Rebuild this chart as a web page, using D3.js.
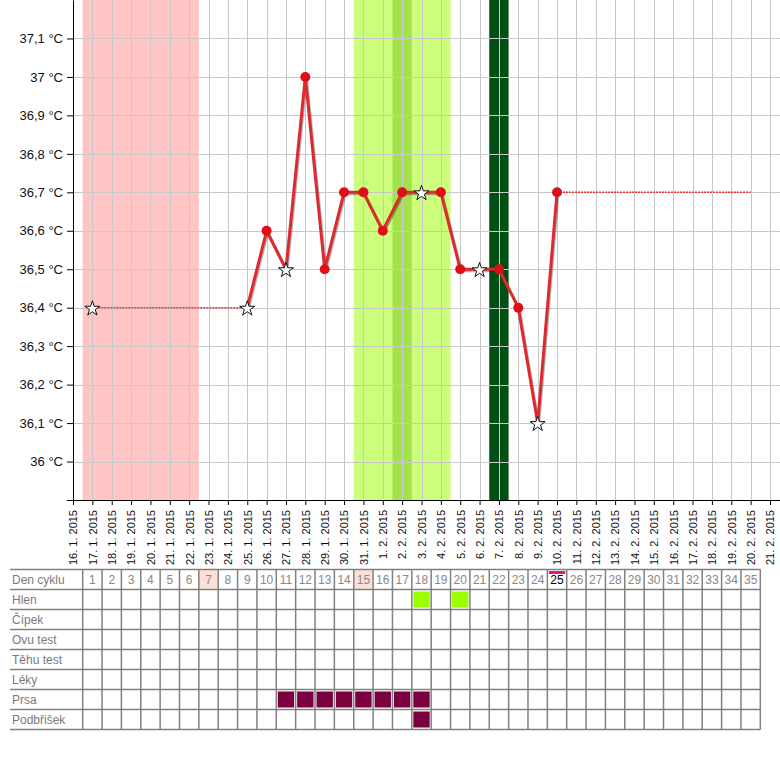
<!DOCTYPE html>
<html>
<head>
<meta charset="utf-8">
<script src="https://cdn.jsdelivr.net/npm/d3@7"></script>
<style>
  body { margin: 0; background: #fff; }
  svg { display: block; font-family: "Liberation Sans", Arial, sans-serif; }
</style>
</head>
<body>
<div id="chart"></div>
<script>
// cycle day 1 = 17. 1. 2015, day 0 = 16. 1. 2015
var startDate = new Date(Date.UTC(2015, 0, 16)),
    endDate = new Date(Date.UTC(2015, 1, 21));

// measured temperatures (cycle day, value, disturbed = star)
var tempDays  = [1, 9, 10, 11, 12, 13, 14, 15, 16, 17, 18, 19, 20, 21, 22, 23, 24, 25];
var tempVals  = [36.4, 36.4, 36.6, 36.5, 37.0, 36.5, 36.7, 36.7, 36.6, 36.7, 36.7, 36.7, 36.5, 36.5, 36.5, 36.4, 36.1, 36.7];
var tempStars = [1, 9, 11, 18, 21, 24];

// thin connecting lines (missing days / projection)
var thinLines = [
    [[1, 36.4], [9, 36.4]],
    [[25, 36.7], [35, 36.7]]
];

// coloured bands [from day, to day]
var menstruation = [1, 6];
var fertile = [15, 19];
var peak = [17, 17];
var ovulation = [22, 22];

var yTicks = [35.9, 36.0, 36.1, 36.2, 36.3, 36.4, 36.5, 36.6, 36.7, 36.8, 36.9, 37.0, 37.1];

// table
var rowLabels = ["Den cyklu", "Hlen", "Čípek", "Ovu test", "Těhu test", "Léky", "Prsa", "Podbřišek"];
var cycleDays = d3.range(1, 36);
var headerPink = [7, 15];
var today = 25;
var hlenDays = [18, 20];
var prsaDays = [11, 12, 13, 14, 15, 16, 17, 18];
var podbrisekDays = [18];

var w = 780, h = 760;

var svg = d3.select("#chart").append("svg")
    .attr("width", w)
    .attr("height", h);

var x = d3.scaleUtc().domain([startDate, endDate]).range([73, 770]);
var y = d3.scaleLinear().domain([35.9, 37.2]).range([500, 0]);

function dayDate(d) { return d3.utcDay.offset(startDate, d); }
function dx(d) { return x(dayDate(d)); }
var step = dx(1) - dx(0);

//bands
function band(r, color) {
    svg.append("rect")
        .attr("x", dx(r[0]) - step / 2)
        .attr("y", y(37.2))
        .attr("width", dx(r[1]) - dx(r[0]) + step)
        .attr("height", y(35.9) - y(37.2))
        .style("fill", color);
}
band(menstruation, "#ffc5c5");
band(fertile, "#cdfd7d");
band(peak, "#a3e24b");
band(ovulation, "#024f16");

//grid
var grid = svg.append("g").style("stroke", "#c8c8c8").style("stroke-width", 1);
grid.selectAll("line.v")
    .data(d3.range(1, 37))
    .enter().append("line")
    .attr("x1", function(d) { return Math.round(dx(d)) + 0.5; })
    .attr("x2", function(d) { return Math.round(dx(d)) + 0.5; })
    .attr("y1", 0).attr("y2", 500);
grid.selectAll("line.h")
    .data(yTicks.slice(1))
    .enter().append("line")
    .attr("x1", 73).attr("x2", 780)
    .attr("y1", function(d) { return Math.round(y(d)) + 0.5; })
    .attr("y2", function(d) { return Math.round(y(d)) + 0.5; });

//axes
var yAxis = d3.axisLeft(y)
    .tickValues(yTicks)
    .tickSize(6)
    .tickSizeOuter(0)
    .tickPadding(4)
    .tickFormat(function(d) {
        if (d < 35.95) return "";
        return d3.format(".1~f")(d).replace(".", ",") + " °C";
    });
var gy = svg.append("g")
    .attr("transform", "translate(73,0)")
    .call(yAxis);
gy.selectAll("text").style("font-size", "13px").style("fill", "#111");

var xAxis = d3.axisBottom(x)
    .ticks(d3.utcDay.every(1))
    .tickSize(5)
    .tickSizeOuter(0)
    .tickFormat(d3.utcFormat("%-d. %-m. %Y"));
var gx = svg.append("g")
    .attr("transform", "translate(0,500)")
    .call(xAxis);
gx.select(".domain").remove();
gx.selectAll("text")
    .attr("transform", "rotate(-90)")
    .attr("x", -10)
    .attr("y", 0)
    .attr("dy", "0.35em")
    .style("text-anchor", "end")
    .style("font-size", "11px")
    .style("fill", "#111");
svg.append("line")
    .attr("x1", 67).attr("x2", 780)
    .attr("y1", 500.5).attr("y2", 500.5)
    .style("stroke", "#000");

//thin lines
var line = d3.line()
    .x(function(d) { return dx(d[0]); })
    .y(function(d) { return y(d[1]); });

svg.selectAll("path.thin")
    .data(thinLines)
    .enter().append("path")
    .attr("d", line)
    .style("fill", "none")
    .style("stroke", "#f03030")
    .style("stroke-width", 1.5)
    .style("stroke-dasharray", "2,1");

// main temperature line from day 9 on
var points = tempDays.map(function(d, i) { return [d, tempVals[i]]; });
var mainPts = points.filter(function(p) { return p[0] >= 9; });

svg.append("path")
    .datum(mainPts)
    .attr("d", line)
    .attr("transform", "translate(1,1.5)")
    .style("fill", "none")
    .style("stroke", "rgba(0,0,0,0.3)")
    .style("stroke-width", 3);
svg.append("path")
    .datum(mainPts)
    .attr("d", line)
    .style("fill", "none")
    .style("stroke", "#dd2a2e")
    .style("stroke-width", 3)
    .style("stroke-linejoin", "round");

svg.selectAll("circle.pt")
    .data(points.filter(function(p) { return tempStars.indexOf(p[0]) < 0; }))
    .enter().append("circle")
    .attr("cx", function(d) { return dx(d[0]); })
    .attr("cy", function(d) { return y(d[1]); })
    .attr("r", 5)
    .style("fill", "#df0f18");

var star = d3.symbol().type(d3.symbolStar).size(70);
svg.selectAll("path.star")
    .data(points.filter(function(p) { return tempStars.indexOf(p[0]) >= 0; }))
    .enter().append("path")
    .attr("d", star)
    .attr("transform", function(d) { return "translate(" + dx(d[0]) + "," + (y(d[1]) + 1) + ")"; })
    .style("fill", "#fff")
    .style("stroke", "#111")
    .style("stroke-width", 1);

//table
var top0 = 569.5, rowH = 20, left0 = 10;
var table = svg.append("g");

function cellX(d) { return dx(d) - step / 2; }

// header highlights
table.selectAll("rect.hp")
    .data(headerPink)
    .enter().append("rect")
    .attr("x", cellX)
    .attr("y", top0)
    .attr("width", step)
    .attr("height", rowH)
    .style("fill", "#fde0d8");

function marks(days, row, color) {
    table.selectAll(null)
        .data(days)
        .enter().append("rect")
        .attr("x", function(d) { return cellX(d) + 1.5; })
        .attr("y", top0 + row * rowH + 2)
        .attr("width", step - 3)
        .attr("height", rowH - 4)
        .style("fill", color);
}
marks(hlenDays, 1, "#99ff00");
marks(prsaDays, 6, "#7a0040");
marks(podbrisekDays, 7, "#7a0040");

table.append("rect")
    .attr("x", cellX(today) + 1.5)
    .attr("y", top0 + 1.5)
    .attr("width", step - 3)
    .attr("height", 3)
    .style("fill", "#e8177f");

// grid of table
table.selectAll("line.th")
    .data(d3.range(rowLabels.length + 1))
    .enter().append("line")
    .attr("x1", left0).attr("x2", cellX(36))
    .attr("y1", function(i) { return top0 + i * rowH; })
    .attr("y2", function(i) { return top0 + i * rowH; })
    .style("stroke", "#808080").style("stroke-width", 1.5);
table.selectAll("line.tv")
    .data(d3.range(1, 37))
    .enter().append("line")
    .attr("x1", cellX).attr("x2", cellX)
    .attr("y1", top0).attr("y2", top0 + rowLabels.length * rowH)
    .style("stroke", "#808080").style("stroke-width", 1.5);

table.selectAll("text.rl")
    .data(rowLabels)
    .enter().append("text")
    .attr("x", left0 + 2)
    .attr("y", function(d, i) { return top0 + i * rowH + 14.5; })
    .style("font-size", "12px")
    .style("fill", "#7a7a7a")
    .text(function(d) { return d; });

table.selectAll("text.cd")
    .data(cycleDays)
    .enter().append("text")
    .attr("x", dx)
    .attr("y", top0 + 14.5)
    .style("text-anchor", "middle")
    .style("font-size", "12px")
    .style("fill", function(d) { return d == today ? "#000" : "#888"; })
    .text(function(d) { return d; });
</script>
</body>
</html>
